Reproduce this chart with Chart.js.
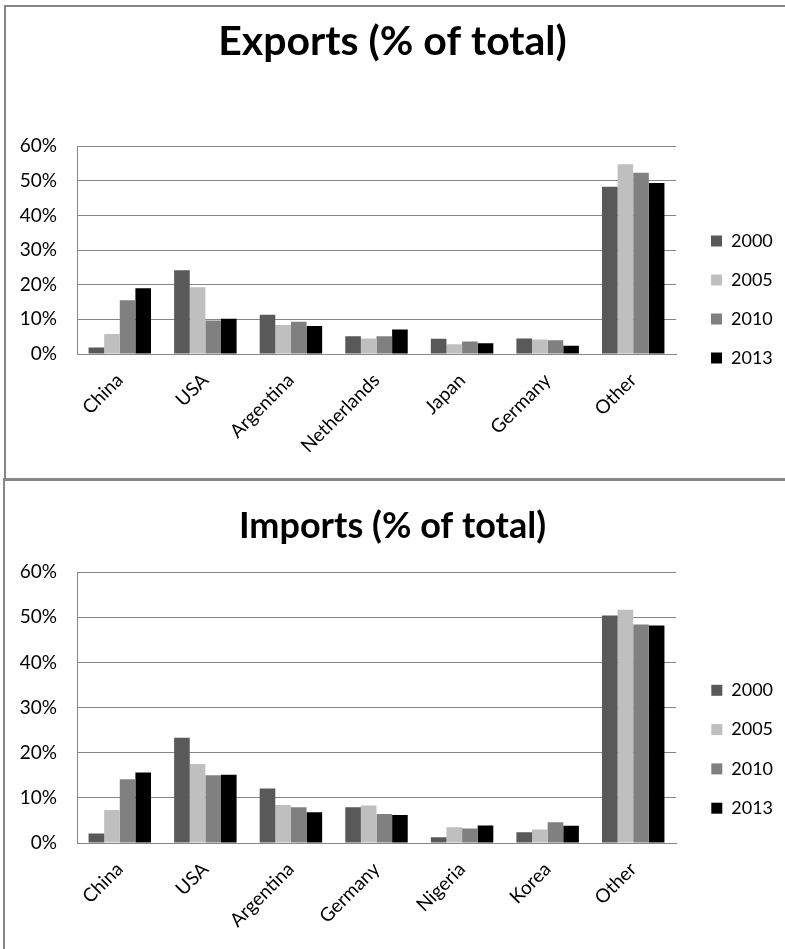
<!DOCTYPE html>
<html>
<head>
<meta charset="utf-8">
<title>Exports and imports (% of total)</title>
<script src="https://cdn.jsdelivr.net/npm/chart.js@4.4.1/dist/chart.umd.min.js"></script>
<style>
  html, body { margin: 0; padding: 0; background: #fff; }
  body { position: relative; width: 785px; height: 949px; overflow: hidden; }
  .panel { position: absolute; left: 0; width: 785px; }
  #exportsPanel { top: 0; height: 478px; }
  #importsPanel { top: 481px; height: 468px; }
  .rule { position: absolute; background: #868686; }
</style>
</head>
<body>
<div class="panel" id="exportsPanel"><canvas id="exportsChart"></canvas></div>
<div class="panel" id="importsPanel"><canvas id="importsChart"></canvas></div>

<!-- chart frames -->
<div class="rule" style="left:4px;top:5px;width:781px;height:2px"></div>
<div class="rule" style="left:4px;top:5px;width:2px;height:474px"></div>
<div class="rule" style="left:4px;top:478px;width:781px;height:3px"></div>
<div class="rule" style="left:3px;top:478px;width:2px;height:471px"></div>

<script>
const years = ['2000', '2005', '2010', '2013'];
const yearColors = ['#595959', '#bfbfbf', '#808080', '#000000'];
const yTicks = [0, 10, 20, 30, 40, 50, 60];

// exports, share of total (%)
const exportCountries = ['China', 'USA', 'Argentina', 'Netherlands', 'Japan', 'Germany', 'Other'];
const exports2000 = [1.9, 24.2, 11.3, 5.1, 4.4, 4.5, 48.3];
const exports2005 = [5.8, 19.3, 8.4, 4.5, 2.8, 4.2, 54.8];
const exports2010 = [15.5, 9.7, 9.3, 5.1, 3.6, 4.0, 52.3];
const exports2013 = [19.0, 10.2, 8.1, 7.1, 3.1, 2.4, 49.4];

// imports, share of total (%)
const importCountries = ['China', 'USA', 'Argentina', 'Germany', 'Nigeria', 'Korea', 'Other'];
const imports2000 = [2.1, 23.3, 12.1, 7.9, 1.3, 2.4, 50.4];
const imports2005 = [7.3, 17.5, 8.4, 8.3, 3.5, 3.0, 51.7];
const imports2010 = [14.1, 15.0, 7.9, 6.4, 3.2, 4.6, 48.4];
const imports2013 = [15.6, 15.1, 6.8, 6.2, 3.9, 3.8, 48.2];

const FONT = 'Lato, "Open Sans", sans-serif';
const GRID = '#868686';

// fixes the legend column width and where its items start
const legendPlace = {
  id: 'legendPlace',
  beforeLayout(chart, args, opts) {
    const legend = chart.legend;
    if (legend && !legend._fixedFit) {
      const fit = legend.fit;
      legend.fit = function () { fit.call(this); this.width = opts.width; };
      legend._fixedFit = true;
    }
  },
  afterLayout(chart, args, opts) {
    chart.legend.left = opts.left;
    chart.legend.top = opts.top;
  }
};

function makeChart(canvasId, title, labels, series, box) {
  return new Chart(document.getElementById(canvasId), {
    type: 'bar',
    data: {
      labels: labels,
      datasets: years.map((yr, i) => ({
        label: yr,
        data: series[i],
        backgroundColor: yearColors[i],
        borderWidth: 0,
        categoryPercentage: 0.73,
        barPercentage: 1.0
      }))
    },
    options: {
      responsive: true,
      maintainAspectRatio: false,
      animation: false,
      devicePixelRatio: 1,
      layout: { padding: 0 },
      plugins: {
        title: {
          display: true,
          text: title,
          color: '#000',
          font: { family: FONT, size: box.titleSize, weight: 'bold' },
          padding: { top: box.titleTop, bottom: box.titleBottom }
        },
        legend: {
          position: 'right',
          align: 'start',
          labels: {
            boxWidth: 11,
            boxHeight: 11,
            padding: box.legendGap,
            color: '#000',
            font: { family: FONT, size: 18 }
          }
        },
        tooltip: { enabled: false },
        legendPlace: { width: 109, left: 690, top: box.legendTop }
      },
      scales: {
        x: {
          grid: { display: false, drawTicks: false },
          border: { color: GRID, width: 1 },
          ticks: {
            color: '#000',
            font: { family: FONT, size: 19 },
            minRotation: 45,
            maxRotation: 45,
            padding: 15,
            autoSkip: false
          },
          afterFit: s => { s.height = box.xHeight; }
        },
        y: {
          min: yTicks[0],
          max: yTicks[yTicks.length - 1],
          grid: { color: GRID, lineWidth: 1, drawTicks: false },
          border: { color: GRID, width: 1 },
          ticks: {
            stepSize: yTicks[1] - yTicks[0],
            color: '#000',
            padding: 20,
            font: { family: FONT, size: 19 },
            callback: v => v + '%'
          },
          afterFit: s => { s.width = 77; }
        }
      }
    },
    plugins: [legendPlace]
  });
}

makeChart('exportsChart', 'Exports (% of total)', exportCountries,
  [exports2000, exports2005, exports2010, exports2013],
  { titleSize: 41, titleTop: 17, titleBottom: 80, xHeight: 124, legendTop: 211, legendGap: 21 });

makeChart('importsChart', 'Imports (% of total)', importCountries,
  [imports2000, imports2005, imports2010, imports2013],
  { titleSize: 36, titleTop: 24, titleBottom: 24, xHeight: 106, legendTop: 179, legendGap: 21.3 });
</script>
</body>
</html>
